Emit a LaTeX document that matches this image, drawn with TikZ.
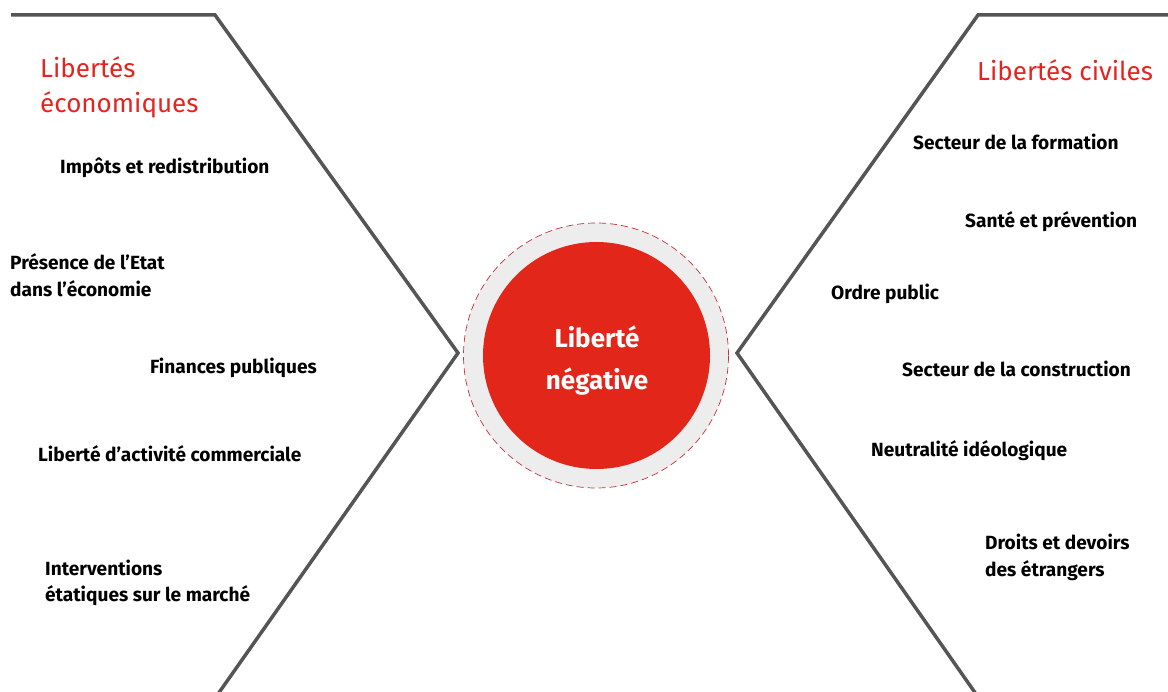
\documentclass[tikz,border=0pt]{standalone}
\usepackage{fontspec}
\setmainfont{Fira Sans}
\definecolor{chev}{HTML}{555555}
\definecolor{ttlred}{HTML}{E52420}
\definecolor{discred}{HTML}{E3261A}
\definecolor{ringgray}{HTML}{EDEDED}
\definecolor{dashred}{HTML}{C8303A}
\begin{document}
\begin{tikzpicture}[x=1pt,y=-1pt,
  chevron/.style={draw=chev,line width=3.5pt,line join=miter},
  title/.style={anchor=west,inner sep=0pt,text=ttlred,align=left,font=\fontsize{26}{35}\selectfont},
  item/.style={anchor=west,inner sep=0pt,align=left,font=\bfseries\fontsize{19.1}{26.5}\selectfont},
  ring/.style={circle,minimum size=265pt,inner sep=0pt,fill=ringgray,draw=dashred,line width=0.7pt,dash pattern=on 7pt off 4pt},
  disc/.style={circle,minimum size=227pt,inner sep=0pt,fill=discred},
  center/.style={align=center,text=white,font=\bfseries\fontsize{26}{42}\selectfont}]
\useasboundingbox (0,0) rectangle (1168,692);
% chevrons
\draw[chevron] (11,15) -- (215,15) -- (458,353) -- (218,694);
\draw[chevron] (1170,15) -- (978,15) -- (737,353) -- (976,694);
% center
\node[ring] (ring) at (596,355.5) {};
\node[disc] (disc) at (596.5,355.5) {};
\node[center] (lneg) at (597,361) {Liberté\\négative};
% left
\node[title] (teco) at (40,87) {Libertés\\économiques};
\node[item] (l1) at (60,168) {Impôts et redistribution};
\node[item] (l2) at (10,275) {Présence de l’Etat\\dans l’économie};
\node[item] (l3) at (150,368) {Finances publiques};
\node[item] (l4) at (38,454) {Liberté d’activité commerciale};
\node[item] (l5) at (45,583) {Interventions\\étatiques sur le marché};
% right
\node[title] (tciv) at (977,70) {Libertés civiles};
\node[item] (r1) at (913,142) {Secteur de la formation};
\node[item] (r2) at (965,222) {Santé et prévention};
\node[item] (r3) at (831,294) {Ordre public};
\node[item] (r4) at (902,369) {Secteur de la construction};
\node[item] (r5) at (871,451) {Neutralité idéologique};
\node[item] (r6) at (985,557.5) {Droits et devoirs\\des étrangers};
\end{tikzpicture}
\end{document}
